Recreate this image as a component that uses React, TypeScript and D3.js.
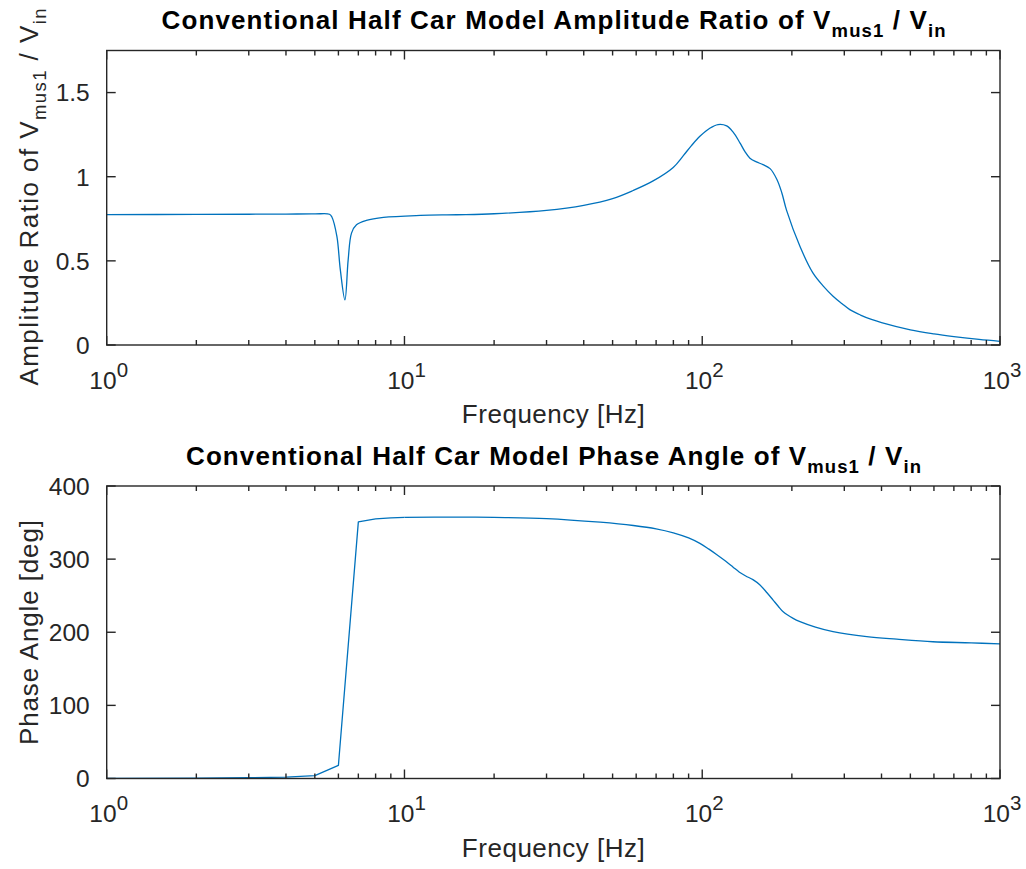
import React from "react";
import * as d3 from "d3";

// ---------- data ----------
const ampFreq = [1, 2, 3, 4, 5, 5.6, 5.7, 5.93, 6.09, 6.31, 6.47, 6.64, 6.9, 7.45, 8.5, 11.3, 15, 20, 30, 40, 50, 58.6, 68.4, 79.9, 86.4, 92, 98.2, 106, 113, 120.8, 127, 134, 139, 144.6, 152, 160, 169, 178, 185, 192, 213, 235, 255, 275, 295, 313, 340, 370, 400, 500, 600, 700, 850, 1000];
const ampValue = [0.775, 0.776, 0.777, 0.778, 0.779, 0.777, 0.762, 0.645, 0.446, 0.268, 0.506, 0.665, 0.714, 0.74, 0.758, 0.77, 0.774, 0.78, 0.8, 0.83, 0.87, 0.918, 0.975, 1.055, 1.125, 1.185, 1.24, 1.288, 1.31, 1.302, 1.265, 1.2, 1.15, 1.11, 1.088, 1.072, 1.048, 0.985, 0.905, 0.8, 0.585, 0.43, 0.35, 0.29, 0.245, 0.21, 0.178, 0.152, 0.133, 0.09, 0.066, 0.05, 0.033, 0.022];

const phaseLowFreq = [1, 2, 3, 4, 5, 6, 7, 8, 9, 10];
const phaseLowValue = [0.3, 0.5, 1, 2, 4, 18, 351, 355, 356.5, 357];
const phaseHighFreq = [10, 15, 20, 30, 45.4, 58.7, 70, 80, 90, 98.2, 105, 112, 120, 127, 133, 140, 148, 156, 165, 173, 180, 187, 202, 213, 240, 275, 357, 450, 595, 800, 1000];
const phaseHighValue = [357, 357.5, 357, 355.5, 350.5, 346, 341.5, 336, 329, 321.5, 314, 306, 297, 289, 282.5, 277, 272, 265, 254, 244, 235.5, 228, 219, 214.5, 207, 200.8, 194, 190.5, 187, 185.5, 184];

const xDomain = [1, 1000];
const xMajorTicks = [1, 10, 100, 1000];
const xTickExponents = ["0", "1", "2", "3"];
const ampTicks = [0, 0.5, 1, 1.5];
const ampTickLabels = ["0", "0.5", "1", "1.5"];
const phaseTicks = [0, 100, 200, 300, 400];
const phaseTickLabels = ["0", "100", "200", "300", "400"];

// ---------- layout ----------
const W = 1026;
const H = 869;
const X0 = 106.7;
const X1 = 1000;
const AX_COLOR = "#262626";
const LINE_COLOR = "#0072BD";
const FONT = "'Liberation Sans', Arial, Helvetica, sans-serif";

const minorTicks: number[] = [];
for (let d = 1; d < 1000; d *= 10) for (let k = 2; k <= 9; k++) minorTicks.push(d * k);

type PanelProps = {
  top: number;
  bottom: number;
  yMax: number;
  yTicks: number[];
  yTickLabels: string[];
  children: (x: d3.ScaleLogarithmic<number, number>, y: d3.ScaleLinear<number, number>) => React.ReactNode;
};

function Panel({ top, bottom, yMax, yTicks, yTickLabels, children }: PanelProps) {
  const x = d3.scaleLog().domain(xDomain).range([X0, X1]);
  const y = d3.scaleLinear().domain([0, yMax]).range([bottom, top]);
  const major = 9;
  const minor = 5;
  return (
    <g>
      <g fill="none" stroke={LINE_COLOR} strokeWidth={1.3} strokeLinejoin="round">{children(x, y)}</g>
      <g stroke={AX_COLOR} strokeWidth={1.4}>
        {minorTicks.map((t) => (
          <g key={"m" + t}>
            <line x1={x(t)} x2={x(t)} y1={bottom} y2={bottom - minor} />
            <line x1={x(t)} x2={x(t)} y1={top} y2={top + minor} />
          </g>
        ))}
        {xMajorTicks.map((t) => (
          <g key={"M" + t}>
            <line x1={x(t)} x2={x(t)} y1={bottom} y2={bottom - major} />
            <line x1={x(t)} x2={x(t)} y1={top} y2={top + major} />
          </g>
        ))}
        {yTicks.map((t) => (
          <g key={"y" + t}>
            <line x1={X0} x2={X0 + major} y1={y(t)} y2={y(t)} />
            <line x1={X1} x2={X1 - major} y1={y(t)} y2={y(t)} />
          </g>
        ))}
        <rect x={X0} y={top} width={X1 - X0} height={bottom - top} fill="none" />
      </g>
      <g fill={AX_COLOR} fontFamily={FONT} fontSize={24.5}>
        {yTicks.map((t, i) => (
          <text key={"yl" + t} x={X0 - 17} y={y(t)} dy="0.36em" textAnchor="end">
            {yTickLabels[i]}
          </text>
        ))}
        {xMajorTicks.map((t, i) => (
          <text key={"xl" + t} x={x(t) + 2} y={bottom + 43.5} textAnchor="middle">
            10
            <tspan dy={-11.6} fontSize={20.5}>{xTickExponents[i]}</tspan>
          </text>
        ))}
        <text x={(X0 + X1) / 2} y={bottom + 78} textAnchor="middle" fontSize={26} textLength={183} lengthAdjust="spacing">
          Frequency [Hz]
        </text>
      </g>
    </g>
  );
}

export default function App() {
  const ampLine = (x: any, y: any) =>
    d3
      .line<number>()
      .x((_, i) => x(ampFreq[i]))
      .y((d) => y(d))
      .curve(d3.curveCatmullRom.alpha(0.5))(ampValue) as string;

  const phaseLow = (x: any, y: any) =>
    d3
      .line<number>()
      .x((_, i) => x(phaseLowFreq[i]))
      .y((d) => y(d))(phaseLowValue) as string;
  const phaseHigh = (x: any, y: any) =>
    d3
      .line<number>()
      .x((_, i) => x(phaseHighFreq[i]))
      .y((d) => y(d))
      .curve(d3.curveCatmullRom.alpha(0.5))(phaseHighValue) as string;

  return (
    <svg
      width={W}
      height={H}
      viewBox={`0 0 ${W} ${H}`}
      style={{ position: "absolute", left: 0, top: 0, background: "#fff" }}
    >
      <rect width={W} height={H} fill="#fff" />
      <Panel top={50.5} bottom={345} yMax={1.75} yTicks={ampTicks} yTickLabels={ampTickLabels}>
        {(x, y) => <path d={ampLine(x, y)} />}
      </Panel>
      <Panel top={486} bottom={778.5} yMax={400} yTicks={phaseTicks} yTickLabels={phaseTickLabels}>
        {(x, y) => (
          <>
            <path d={phaseLow(x, y)} />
            <path d={phaseHigh(x, y)} />
          </>
        )}
      </Panel>

      {/* titles */}
      <g fontFamily={FONT} fontWeight="bold" fill="#000" fontSize={26}>
        <text x={553.5} y={29} textAnchor="middle" textLength={784} lengthAdjust="spacing">
          Conventional Half Car Model Amplitude Ratio of V
          <tspan fontSize={18.5} dy={8}>mus1</tspan>
          <tspan dy={-8}> / V</tspan>
          <tspan fontSize={18.5} dy={8}>in</tspan>
        </text>
        <text x={553.5} y={465} textAnchor="middle" textLength={735} lengthAdjust="spacing">
          Conventional Half Car Model Phase Angle of V
          <tspan fontSize={18.5} dy={8}>mus1</tspan>
          <tspan dy={-8}> / V</tspan>
          <tspan fontSize={18.5} dy={8}>in</tspan>
        </text>
      </g>

      {/* y labels */}
      <g fontFamily={FONT} fill={AX_COLOR} fontSize={26}>
        <text transform={`translate(38,197) rotate(-90)`} textAnchor="middle" textLength={377} lengthAdjust="spacing">
          Amplitude Ratio of V
          <tspan fontSize={18.5} dy={8}>mus1</tspan>
          <tspan dy={-8}> / V</tspan>
          <tspan fontSize={18.5} dy={8}>in</tspan>
        </text>
        <text transform={`translate(38,632.5) rotate(-90)`} textAnchor="middle" textLength={225} lengthAdjust="spacing">
          Phase Angle [deg]
        </text>
      </g>
    </svg>
  );
}
